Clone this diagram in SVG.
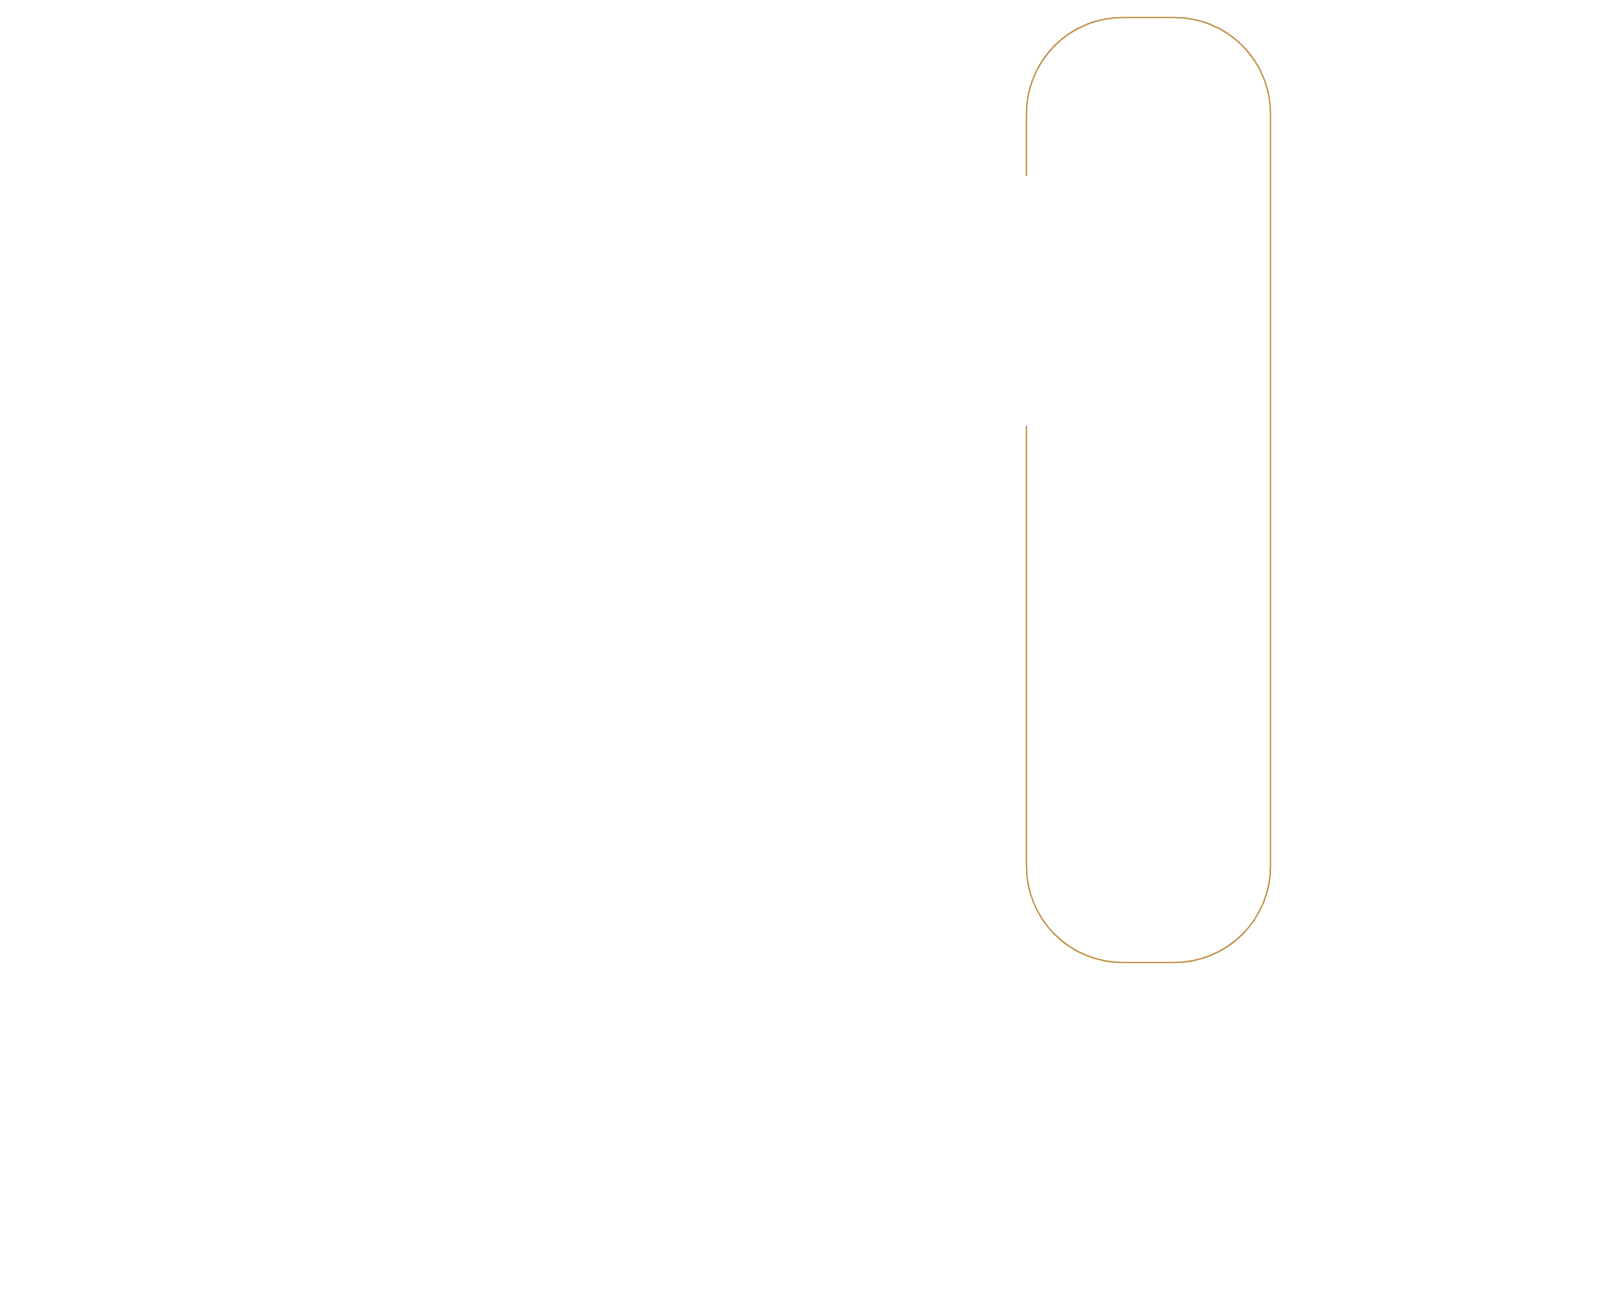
<svg xmlns="http://www.w3.org/2000/svg" width="1600" height="1300" viewBox="0 0 1600 1300">
  <style>
    .frame { fill: none; stroke: #C4944F; stroke-width: 1.5; stroke-linecap: butt; }
  </style>
  <rect x="0" y="0" width="1600" height="1300" fill="#FFFFFF"/>
  <g id="frame">
    <path class="frame" d="M1026.5,176 L1026.5,113.5 A96,96 0 0 1 1122.5,17.5 L1174.5,17.5 A96,96 0 0 1 1270.5,113.5 L1270.5,866.5 A96,96 0 0 1 1174.5,962.5 L1122.5,962.5 A96,96 0 0 1 1026.5,866.5 L1026.5,426"/>
  </g>
  <g id="connectors"></g>
</svg>
